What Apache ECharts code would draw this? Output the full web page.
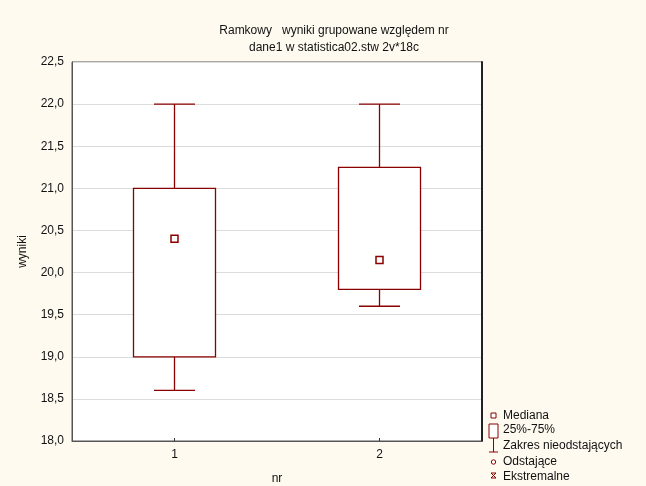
<!DOCTYPE html>
<html>
<head>
<meta charset="utf-8">
<script src="https://cdn.jsdelivr.net/npm/echarts@6/dist/echarts.min.js"></script>
<style>html,body{margin:0;padding:0;background:#fefaf0;}#c{width:646px;height:486px;}</style>
</head>
<body>
<div id="c"></div>
<script>
// ---- data ----
var categories = ['1', '2'];
var minVals    = [18.6, 19.6];
var q1Vals     = [19.0, 19.8];
var medianVals = [20.4, 20.15];
var q3Vals     = [21.0, 21.25];
var maxVals    = [22.0, 22.0];
var yTicks     = [18.0, 18.5, 19.0, 19.5, 20.0, 20.5, 21.0, 21.5, 22.0, 22.5];

var RED = '#8b0000';
var FONT = 'Liberation Sans, Arial, sans-serif';

var boxData = categories.map(function (c, i) {
  return [i, minVals[i], q1Vals[i], medianVals[i], q3Vals[i], maxVals[i]];
});
var medData = categories.map(function (c, i) { return [i, medianVals[i]]; });

var chart = echarts.init(document.getElementById('c'), null, {renderer: 'canvas'});
var lw = 1.3;
chart.setOption({
  backgroundColor: '#fefaf0',
  animation: false,
  title: {
    text: 'Ramkowy   wyniki grupowane względem nr\ndane1 w statistica02.stw 2v*18c',
    left: 329, top: 17, textAlign: 'center',
    textStyle: {fontFamily: FONT, fontSize: 12, fontWeight: 'normal', color: '#111', lineHeight: 17}
  },
  grid: {left: 72, right: 164, top: 62, bottom: 45, outerBoundsMode: 'none', containLabel: false,
    show: true, backgroundColor: '#fff', borderColor: '#555', borderWidth: 1},
  xAxis: {
    type: 'category', data: categories,
    name: 'nr', nameLocation: 'middle', nameGap: 32,
    nameTextStyle: {fontFamily: FONT, fontSize: 12, color: '#111'},
    axisLine: {show: true, lineStyle: {color: '#555', width: 1}},
    axisTick: {show: true, alignWithLabel: true, inside: true, length: 3, lineStyle: {color: '#333'}},
    axisLabel: {fontFamily: FONT, fontSize: 12, color: '#111', margin: 8},
    splitLine: {show: false}
  },
  yAxis: [{
    type: 'value', min: 18, max: 22.5, interval: 0.5,
    name: 'wyniki', nameLocation: 'middle', nameGap: 43,
    nameTextStyle: {fontFamily: FONT, fontSize: 12, color: '#111'},
    axisLine: {show: true, lineStyle: {color: '#555', width: 1}},
    axisTick: {show: false},
    axisLabel: {fontFamily: FONT, fontSize: 12, color: '#111', margin: 8,
      formatter: function (v) { return v.toFixed(1).replace('.', ','); }},
    splitLine: {show: true, lineStyle: {color: '#dcdcdc', width: 1}}
  }, {
    type: 'value', min: 18, max: 22.5, interval: 0.5, position: 'right',
    axisLine: {show: true, lineStyle: {color: '#222', width: 2}},
    axisTick: {show: false}, axisLabel: {show: false}, splitLine: {show: false}
  }],
  series: [{
    type: 'custom',
    data: boxData,
    encode: {x: 0, y: [1, 2, 3, 4, 5]},
    renderItem: function (params, api) {
      var idx = api.value(0);
      var x = api.coord([idx, api.value(2)])[0];
      var band = api.size([1, 0])[0];
      var w = band * 0.4, cw = band * 0.2;
      var yMin = api.coord([idx, api.value(1)])[1];
      var yQ1 = api.coord([idx, api.value(2)])[1];
      var yQ3 = api.coord([idx, api.value(4)])[1];
      var yMax = api.coord([idx, api.value(5)])[1];
      var st = {stroke: RED, lineWidth: lw, fill: null};
      return {type: 'group', children: [
        {type: 'line', shape: {x1: x, y1: yMax, x2: x, y2: yQ3}, style: st},
        {type: 'line', shape: {x1: x, y1: yQ1, x2: x, y2: yMin}, style: st},
        {type: 'line', shape: {x1: x - cw / 2, y1: yMax, x2: x + cw / 2, y2: yMax}, style: st},
        {type: 'line', shape: {x1: x - cw / 2, y1: yMin, x2: x + cw / 2, y2: yMin}, style: st},
        {type: 'rect', shape: {x: x - w / 2, y: yQ3, width: w, height: yQ1 - yQ3}, style: {stroke: RED, lineWidth: lw, fill: '#fff'}}
      ]};
    },
    z: 2
  }, {
    type: 'scatter',
    data: medData,
    symbol: 'rect', symbolSize: 7,
    itemStyle: {color: '#fff', borderColor: RED, borderWidth: 1.5, opacity: 1},
    z: 3
  }],
  graphic: [
    {type: 'rect', shape: {x: 491, y: 413, width: 5, height: 5}, style: {fill: '#fff', stroke: RED, lineWidth: 1}},
    {type: 'text', x: 503, y: 416, style: {text: 'Mediana', font: '12px ' + FONT, fill: '#111', verticalAlign: 'middle'}},
    {type: 'rect', shape: {x: 489, y: 424, width: 9, height: 14}, style: {fill: '#fff', stroke: RED, lineWidth: 1}},
    {type: 'text', x: 503, y: 430, style: {text: '25%-75%', font: '12px ' + FONT, fill: '#111', verticalAlign: 'middle'}},
    {type: 'line', shape: {x1: 493.5, y1: 438, x2: 493.5, y2: 452}, style: {stroke: RED, lineWidth: 1}},
    {type: 'line', shape: {x1: 489, y1: 452, x2: 498, y2: 452}, style: {stroke: RED, lineWidth: 1}},
    {type: 'text', x: 503, y: 446, style: {text: 'Zakres nieodstających', font: '12px ' + FONT, fill: '#111', verticalAlign: 'middle'}},
    {type: 'circle', shape: {cx: 493.5, cy: 462, r: 2.2}, style: {fill: '#fff', stroke: RED, lineWidth: 1}},
    {type: 'text', x: 503, y: 462, style: {text: 'Odstające', font: '12px ' + FONT, fill: '#111', verticalAlign: 'middle'}},
    {type: 'line', shape: {x1: 491, y1: 473, x2: 496, y2: 478}, style: {stroke: RED, lineWidth: 1}},
    {type: 'line', shape: {x1: 496, y1: 473, x2: 491, y2: 478}, style: {stroke: RED, lineWidth: 1}},
    {type: 'line', shape: {x1: 491, y1: 473, x2: 496, y2: 473}, style: {stroke: RED, lineWidth: 1}},
    {type: 'line', shape: {x1: 491, y1: 478, x2: 496, y2: 478}, style: {stroke: RED, lineWidth: 1}},
    {type: 'text', x: 503, y: 477, style: {text: 'Ekstremalne', font: '12px ' + FONT, fill: '#111', verticalAlign: 'middle'}}
  ]
});
</script>
</body>
</html>
